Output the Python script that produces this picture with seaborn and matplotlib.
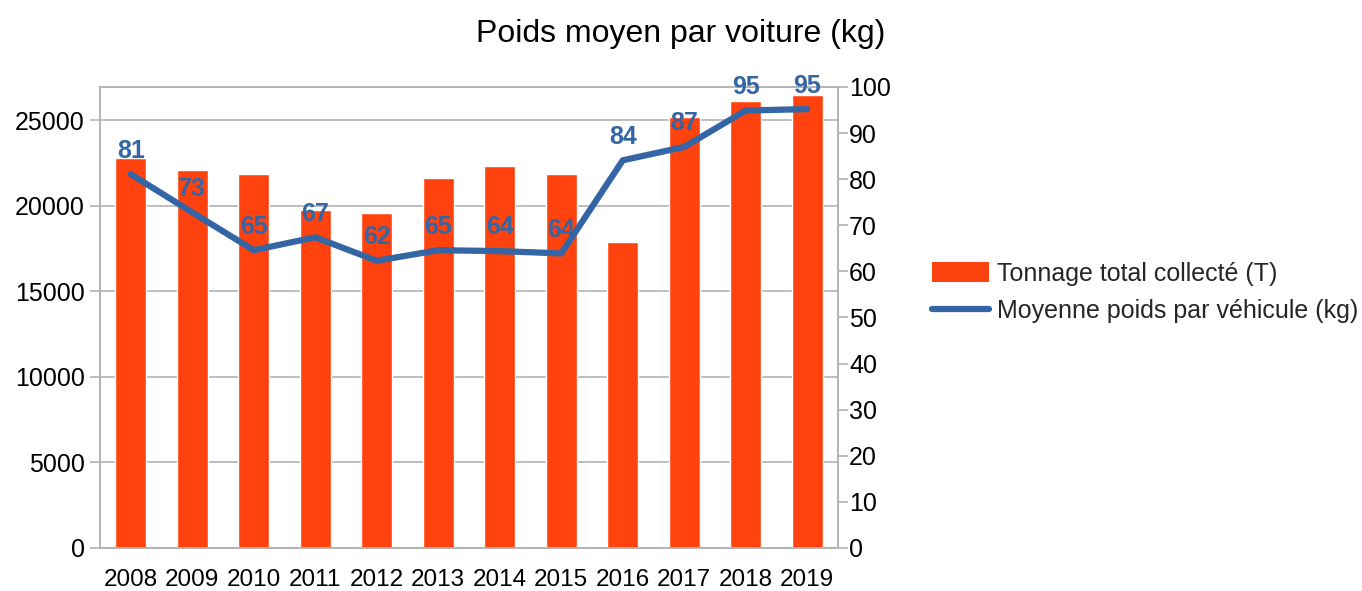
#!/usr/bin/env python3
"""
Poids moyen par voiture : barres du tonnage collecté + courbe du poids moyen par véhicule.
Sortie: out.png
"""

import matplotlib
matplotlib.use('Agg')
import matplotlib.pyplot as plt
import numpy as np
import pandas as pd
import seaborn as sns
from matplotlib.lines import Line2D
from matplotlib.patches import Patch
from matplotlib.ticker import FixedLocator, NullFormatter

years = ['2008', '2009', '2010', '2011', '2012', '2013',
         '2014', '2015', '2016', '2017', '2018', '2019']
tonnage = [22800, 22080, 21830, 19740, 19550, 21630,
           22330, 21870, 17870, 25190, 26130, 26440]
poids_moyen = [81.1, 72.8, 64.6, 67.4, 62.3, 64.6,
               64.4, 63.9, 84.1, 87.0, 94.9, 95.2]

bar_label = 'Tonnage total collecté (T)'
line_label = 'Moyenne poids par véhicule (kg)'
title = 'Poids moyen par voiture (kg)'

BAR_COLOR = '#ff420e'
LINE_COLOR = '#3465a4'
GRID_COLOR = '#b3b3b3'
FS = 18

sns.set_theme(style='white')
plt.rcParams['font.family'] = ['Liberation Sans', 'DejaVu Sans']

df = pd.DataFrame({'annee': years, 'tonnage': tonnage, 'poids': poids_moyen})
df['pos'] = np.arange(len(df))

fig = plt.figure(figsize=(13.62, 5.91), dpi=100)
ax = fig.add_axes([0.0734, 0.0728, 0.5419, 0.78])

sns.barplot(data=df, x='annee', y='tonnage', color=BAR_COLOR, saturation=1,
            width=0.5, ax=ax, zorder=2)
ax.set_xlim(-0.5, len(df) - 0.5)
ax.set_ylim(0, 26930)
ax.set_yticks([0, 5000, 10000, 15000, 20000, 25000])
ax.yaxis.grid(True, color=GRID_COLOR, linewidth=1.2, zorder=0)
ax.set_axisbelow(True)
ax.set_xlabel('')
ax.set_ylabel('')

# ticks between categories, labels at the center
ax.xaxis.set_minor_locator(FixedLocator(np.arange(-0.5, len(df), 1.0)))
ax.xaxis.set_minor_formatter(NullFormatter())
ax.tick_params(axis='x', which='major', length=0, labelsize=17.5, pad=15)
ax.tick_params(axis='x', which='minor', length=9, width=1.2, color=GRID_COLOR)
ax.tick_params(axis='y', length=7, width=1.2, color=GRID_COLOR, labelsize=FS, pad=4,
               left=True)
for side in ['left', 'right', 'top', 'bottom']:
    ax.spines[side].set_color(GRID_COLOR)
    ax.spines[side].set_linewidth(1.2)

ax2 = ax.twinx()
sns.lineplot(data=df, x='pos', y='poids', color=LINE_COLOR, linewidth=4.5,
             ax=ax2, zorder=3)
ax2.set_ylim(0, 100)
ax2.set_yticks(np.arange(0, 101, 10))
ax2.set_xlim(-0.5, len(df) - 0.5)
ax2.set_ylabel('')
ax2.set_xlabel('')
ax2.tick_params(axis='y', length=7, width=1.2, color=GRID_COLOR, labelsize=FS, pad=1,
                right=True)
for side in ['left', 'right', 'top', 'bottom']:
    ax2.spines[side].set_color(GRID_COLOR)
    ax2.spines[side].set_linewidth(1.2)

for x, v in zip(df['pos'], df['poids']):
    ax2.annotate(f'{v:.0f}', (x, v), xytext=(0, 17), textcoords='offset points',
                 ha='center', va='center', fontsize=FS, fontweight='bold',
                 color=LINE_COLOR, zorder=4)

for t in ax.get_xticklabels() + ax.get_yticklabels() + ax2.get_yticklabels():
    t.set_color('#000000')

fig.suptitle(title, x=0.5, y=0.968, fontsize=23, color='#000000')

handles = [Patch(facecolor=BAR_COLOR, edgecolor='none'),
           Line2D([0], [0], color=LINE_COLOR, linewidth=4.5)]
fig.legend(handles, [bar_label, line_label], loc='center left',
           bbox_to_anchor=(0.684, 0.505), frameon=False, fontsize=FS,
           handlelength=2.3, handleheight=0.9, handletextpad=0.3,
           labelspacing=0.55, borderpad=0, borderaxespad=0)

fig.savefig('out.png', dpi=100, facecolor='white')
